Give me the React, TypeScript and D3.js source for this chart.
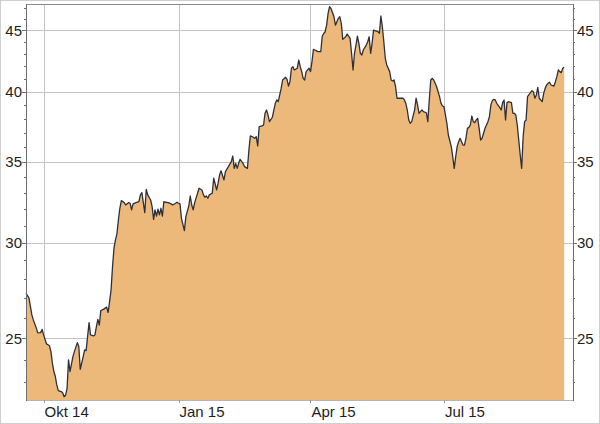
import React from "react";
import * as d3 from "d3";

// Daily closes
const dates: string[] = [
  "2014-09-19","2014-09-21","2014-09-23","2014-09-24","2014-09-26","2014-09-27","2014-09-29","2014-09-30",
  "2014-10-01","2014-10-03","2014-10-04","2014-10-05","2014-10-06","2014-10-07","2014-10-08","2014-10-09","2014-10-10","2014-10-11","2014-10-13","2014-10-14","2014-10-15","2014-10-16","2014-10-17","2014-10-18","2014-10-19","2014-10-21","2014-10-22","2014-10-24","2014-10-25","2014-10-26","2014-10-28","2014-10-29","2014-10-30","2014-10-31",
  "2014-11-01","2014-11-02","2014-11-04","2014-11-05","2014-11-06","2014-11-07","2014-11-08","2014-11-09","2014-11-10","2014-11-11","2014-11-13","2014-11-14","2014-11-15","2014-11-16","2014-11-17","2014-11-18","2014-11-19","2014-11-20","2014-11-21","2014-11-22","2014-11-23","2014-11-25","2014-11-26","2014-11-28","2014-11-29","2014-11-30",
  "2014-12-01","2014-12-03","2014-12-05","2014-12-06","2014-12-07","2014-12-09","2014-12-10","2014-12-11","2014-12-13","2014-12-14","2014-12-15","2014-12-16","2014-12-17","2014-12-18","2014-12-19","2014-12-20","2014-12-21","2014-12-22","2014-12-23","2014-12-25","2014-12-27","2014-12-28","2014-12-30","2014-12-31",
  "2015-01-01","2015-01-02","2015-01-03","2015-01-05","2015-01-06","2015-01-08","2015-01-09","2015-01-10","2015-01-11","2015-01-12","2015-01-14","2015-01-15","2015-01-17","2015-01-18","2015-01-19","2015-01-20","2015-01-21","2015-01-22","2015-01-24","2015-01-25","2015-01-27","2015-01-28","2015-01-29","2015-01-30",
  "2015-02-01","2015-02-02","2015-02-04","2015-02-06","2015-02-07","2015-02-08","2015-02-09","2015-02-10","2015-02-11","2015-02-12","2015-02-14","2015-02-15","2015-02-17","2015-02-18","2015-02-19","2015-02-21","2015-02-22","2015-02-23","2015-02-24","2015-02-25","2015-02-27","2015-02-28",
  "2015-03-01","2015-03-02","2015-03-03","2015-03-04","2015-03-06","2015-03-07","2015-03-08","2015-03-09","2015-03-10","2015-03-11","2015-03-12","2015-03-13","2015-03-15","2015-03-16","2015-03-17","2015-03-18","2015-03-19","2015-03-20","2015-03-21","2015-03-23","2015-03-24","2015-03-25","2015-03-26","2015-03-27","2015-03-28","2015-03-29","2015-03-31",
  "2015-04-01","2015-04-02","2015-04-03","2015-04-04","2015-04-05","2015-04-06","2015-04-08","2015-04-09","2015-04-10","2015-04-11","2015-04-12","2015-04-13","2015-04-14","2015-04-15","2015-04-17","2015-04-18","2015-04-19","2015-04-20","2015-04-21","2015-04-22","2015-04-23","2015-04-25","2015-04-26","2015-04-27","2015-04-28","2015-04-29","2015-04-30",
  "2015-05-01","2015-05-02","2015-05-03","2015-05-04","2015-05-05","2015-05-06","2015-05-07","2015-05-09","2015-05-10","2015-05-11","2015-05-12","2015-05-13","2015-05-14","2015-05-15","2015-05-17","2015-05-18","2015-05-19","2015-05-20","2015-05-21","2015-05-22","2015-05-23","2015-05-25","2015-05-26","2015-05-27","2015-05-28","2015-05-29","2015-05-30","2015-05-31",
  "2015-06-01","2015-06-03","2015-06-04","2015-06-05","2015-06-06","2015-06-07","2015-06-08","2015-06-09","2015-06-11","2015-06-12","2015-06-13","2015-06-14","2015-06-15","2015-06-16","2015-06-17","2015-06-19","2015-06-20","2015-06-21","2015-06-22","2015-06-23","2015-06-24","2015-06-25","2015-06-26","2015-06-28","2015-06-29","2015-06-30",
  "2015-07-01","2015-07-02","2015-07-03","2015-07-04","2015-07-06","2015-07-07","2015-07-08","2015-07-09","2015-07-10","2015-07-11","2015-07-12","2015-07-14","2015-07-15","2015-07-16","2015-07-17","2015-07-18","2015-07-19","2015-07-20","2015-07-21","2015-07-22","2015-07-23","2015-07-24","2015-07-25","2015-07-26","2015-07-27","2015-07-28","2015-07-29","2015-07-31",
  "2015-08-01","2015-08-02","2015-08-03","2015-08-04","2015-08-05","2015-08-06","2015-08-08","2015-08-09","2015-08-10","2015-08-11","2015-08-12","2015-08-13","2015-08-14","2015-08-16","2015-08-17","2015-08-18","2015-08-19","2015-08-20","2015-08-21","2015-08-22","2015-08-23","2015-08-24","2015-08-25","2015-08-26","2015-08-27","2015-08-29","2015-08-30","2015-08-31",
  "2015-09-01","2015-09-02","2015-09-03","2015-09-04","2015-09-06","2015-09-07","2015-09-08","2015-09-09","2015-09-10","2015-09-11","2015-09-12","2015-09-14","2015-09-15","2015-09-16","2015-09-17","2015-09-18","2015-09-19","2015-09-20","2015-09-21",
];

const closes: number[] = [
  27.24,27.00,26.14,25.89,25.50,25.26,25.27,25.43,
  25.16,24.73,24.69,24.64,24.37,23.84,23.46,23.24,22.87,22.62,22.58,22.53,22.36,22.43,22.72,23.99,23.46,24.14,24.37,24.79,24.61,23.56,24.14,24.45,24.42,25.08,
  25.76,25.16,25.11,25.16,25.56,25.92,25.64,26.36,26.39,26.43,26.53,26.26,26.81,27.41,28.66,29.69,30.16,30.51,31.33,32.04,32.51,32.39,32.24,32.39,32.35,31.94,
  32.31,32.39,32.45,32.87,33.01,31.78,33.22,32.87,32.55,32.14,31.37,31.94,31.57,31.98,31.64,32.04,31.57,32.45,32.41,32.39,32.31,32.24,32.35,32.41,
  32.35,32.31,31.43,30.70,31.53,32.18,32.80,32.24,31.94,32.39,32.97,33.29,33.18,32.87,32.72,32.80,32.66,32.87,32.97,33.93,33.18,33.61,34.15,34.42,
  33.82,34.36,34.69,35.02,35.40,34.58,34.91,34.58,34.91,35.18,34.91,34.69,34.58,35.81,36.79,36.69,36.62,36.73,36.09,37.44,37.49,37.56,
  38.41,38.65,38.29,37.80,38.12,38.65,39.15,39.40,39.27,39.78,40.28,40.93,41.14,40.98,40.46,40.80,41.86,41.98,41.72,41.86,42.52,41.98,41.59,41.06,40.93,41.59,41.86,
  41.59,42.38,43.40,43.34,43.29,43.20,43.20,44.50,44.73,44.88,45.45,46.49,47.08,46.91,46.18,45.45,45.74,46.04,46.18,45.60,44.23,44.45,44.68,44.50,44.31,43.07,41.72,
  43.07,43.75,44.50,43.90,43.07,42.93,43.34,43.75,44.03,44.45,43.07,43.90,45.02,44.97,44.88,44.75,46.25,45.29,44.03,42.66,42.12,41.59,40.93,40.85,40.93,40.41,39.53,39.53,
  39.53,39.53,39.40,39.15,38.65,37.92,37.68,37.80,38.65,39.53,39.03,38.41,38.53,38.65,38.53,38.45,37.80,39.40,40.93,41.06,40.93,40.67,40.41,39.65,39.15,38.95,
  38.90,38.29,37.68,36.85,36.04,35.35,34.58,35.35,36.04,36.38,36.62,36.15,36.15,36.62,37.32,37.39,37.56,38.21,37.80,37.73,37.92,38.04,37.32,36.50,36.62,36.97,37.32,37.80,
  38.16,39.03,39.35,39.45,39.40,39.15,38.85,38.65,39.20,39.40,37.92,39.20,39.27,39.20,38.41,38.41,38.29,37.56,36.50,35.47,34.58,36.73,37.80,37.92,39.65,39.95,40.10,40.02,
  39.53,39.78,40.36,39.53,39.27,39.90,40.28,40.54,40.67,40.75,40.54,40.46,40.80,41.19,41.72,41.59,41.51,41.86,41.94,
];

const yTickValues = [25, 30, 35, 40, 45];
const yMinorTickValues = [23, 24, 26, 27, 28, 29, 31, 32, 33, 34, 36, 37, 38, 39, 41, 42, 43, 44, 46, 47];
const xTickDates = ["2014-10-01", "2015-01-01", "2015-04-01", "2015-07-01"];
const xTickLabels = ["Okt 14", "Jan 15", "Apr 15", "Jul 15"];
const xDomain = ["2014-09-19", "2015-09-27"];
const yDomain = [22.22, 47.32];

const W = 600;
const H = 424;
const P = { left: 26, right: 573, top: 4, bottom: 400 };

type Datum = { date: Date; value: number };

export default function App() {
  const parse = d3.utcParse("%Y-%m-%d");
  const data: Datum[] = dates.map((d, i) => ({ date: parse(d) as Date, value: closes[i] }));

  const x = d3.scaleUtc().domain(xDomain.map((d) => parse(d) as Date)).range([P.left, P.right]);
  const y = d3.scaleLog().domain(yDomain).range([P.bottom, P.top]);

  const area = d3
    .area<Datum>()
    .x((d) => x(d.date))
    .y0(P.bottom)
    .y1((d) => y(d.value));
  const line = d3
    .line<Datum>()
    .x((d) => x(d.date))
    .y((d) => y(d.value));

  const crisp = (v: number) => Math.round(v) + 0.5;
  const font = "'Liberation Sans', Arial, Helvetica, sans-serif";

  return (
    <div style={{ width: W, height: H }}>
      <style>{"html,body{margin:0;padding:0;background:#fff;}"}</style>
      <svg width={W} height={H} style={{ display: "block" }} fontFamily={font}>
        <rect x={0.5} y={0.5} width={W - 1} height={H - 1} fill="#fff" stroke="#cfcfcf" />

        {/* grid */}
        <g stroke="#c4c4c4" strokeWidth={1} shapeRendering="crispEdges">
          {yTickValues.map((v) => (
            <line key={"gy" + v} x1={P.left} x2={P.right} y1={crisp(y(v))} y2={crisp(y(v))} />
          ))}
          {xTickDates.map((d) => {
            const xx = crisp(x(parse(d) as Date));
            return <line key={"gx" + d} x1={xx} x2={xx} y1={P.top} y2={P.bottom} />;
          })}
        </g>

        {/* area + line */}
        <path d={area(data) || ""} fill="#EDB97A" stroke="none" />
        <path
          d={line(data) || ""}
          fill="none"
          stroke="#2c303b"
          strokeWidth={1.3}
          strokeLinejoin="round"
        />

        {/* frame */}
        <g shapeRendering="crispEdges">
          <line x1={P.left} x2={P.right + 1} y1={P.top + 0.5} y2={P.top + 0.5} stroke="#8a8a8a" />
          <line x1={P.left} x2={P.right + 1} y1={P.bottom + 0.5} y2={P.bottom + 0.5} stroke="#b5b5b5" />
          <line x1={P.left + 0.5} x2={P.left + 0.5} y1={P.top} y2={P.bottom + 1} stroke="#6e6e6e" />
          <line x1={P.right + 0.5} x2={P.right + 0.5} y1={P.top} y2={P.bottom + 1} stroke="#6e6e6e" />
        </g>

        {/* y ticks left and right */}
        <g stroke="#6e6e6e" shapeRendering="crispEdges">
          {yTickValues.map((v) => (
            <g key={"yt" + v}>
              <line x1={P.left - 4} x2={P.left} y1={crisp(y(v))} y2={crisp(y(v))} />
              <line x1={P.right} x2={P.right + 4} y1={crisp(y(v))} y2={crisp(y(v))} />
            </g>
          ))}
          {yMinorTickValues.map((v) => (
            <g key={"ym" + v}>
              <line x1={P.left - 2} x2={P.left} y1={crisp(y(v))} y2={crisp(y(v))} />
              <line x1={P.right} x2={P.right + 2} y1={crisp(y(v))} y2={crisp(y(v))} />
            </g>
          ))}
          {xTickDates.map((d) => {
            const xx = crisp(x(parse(d) as Date));
            return <line key={"xt" + d} x1={xx} x2={xx} y1={P.bottom} y2={P.bottom + 3} stroke="#999" />;
          })}
        </g>

        {/* labels */}
        <g fontSize={15} fill="#1e1e1e">
          {yTickValues.map((v) => (
            <g key={"yl" + v}>
              <text x={P.left - 4} y={y(v)} dy="0.36em" textAnchor="end">
                {v}
              </text>
              <text x={P.right + 4} y={y(v)} dy="0.36em" textAnchor="start">
                {v}
              </text>
            </g>
          ))}
          {xTickDates.map((d, i) => (
            <text key={"xl" + d} x={x(parse(d) as Date) + 1} y={P.bottom + 16.5} textAnchor="start">
              {xTickLabels[i]}
            </text>
          ))}
        </g>
      </svg>
    </div>
  );
}
